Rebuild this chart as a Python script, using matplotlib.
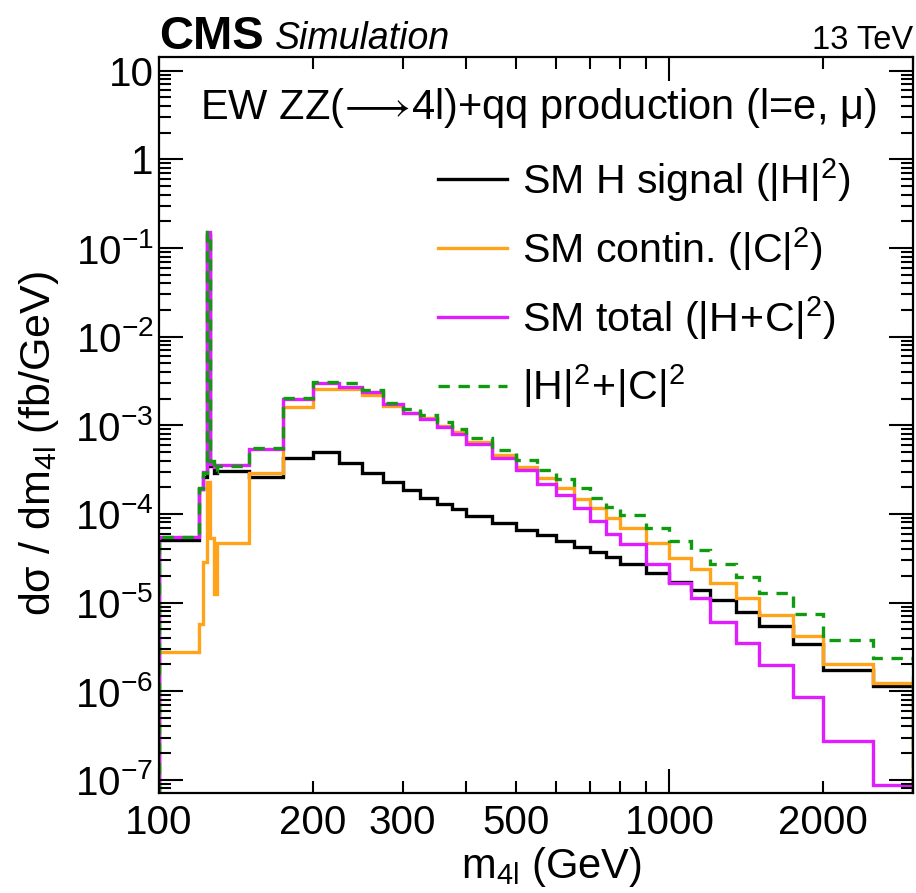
import numpy as np
import matplotlib
matplotlib.use("Agg")
import matplotlib.pyplot as plt
from matplotlib.ticker import FixedLocator, FuncFormatter, NullFormatter

plt.rcParams['font.family'] = ['Liberation Sans', 'DejaVu Sans']
plt.rcParams['mathtext.fontset'] = 'custom'
plt.rcParams['mathtext.rm'] = 'Liberation Sans'
plt.rcParams['mathtext.it'] = 'Liberation Sans:italic'
plt.rcParams['mathtext.bf'] = 'Liberation Sans:bold'

# bin edges in m4l (GeV)
edges = [100, 120, 122, 124, 126, 128, 130, 150, 175, 200, 225, 250, 275, 300,
         325, 350, 375, 400, 450, 500, 550, 600, 650, 700, 750, 800, 900, 1000,
         1100, 1200, 1350, 1500, 1750, 2000, 2500, 3000]

# dsigma/dm4l (fb/GeV)
sm_signal = [5.1e-5, 1.9e-4, 2.6e-4, 0.14, 3.5e-4, 2.9e-4, 3.05e-4, 2.63e-4,
             4.3e-4, 5.0e-4, 3.8e-4, 2.93e-4, 2.3e-4, 1.88e-4, 1.53e-4, 1.28e-4,
             1.15e-4, 9.5e-5, 7.9e-5, 6.5e-5, 5.75e-5, 4.9e-5, 4.25e-5, 3.7e-5,
             3.27e-5, 2.75e-5, 2.16e-5, 1.71e-5, 1.4e-5, 1.06e-5, 7.8e-6,
             5.45e-6, 3.38e-6, 1.75e-6, 1.15e-6]
sm_contin = [2.75e-6, 5.8e-6, 2.9e-5, 2.3e-4, 5.3e-5, 1.26e-5, 4.7e-5, 2.86e-4,
             1.61e-3, 2.55e-3, 2.54e-3, 2.19e-3, 1.64e-3, 1.39e-3, 1.21e-3,
             9.85e-4, 8.3e-4, 6.4e-4, 4.6e-4, 3.39e-4, 2.55e-4, 1.97e-4,
             1.49e-4, 1.17e-4, 8.9e-5, 6.95e-5, 4.75e-5, 3.22e-5, 2.42e-5,
             1.64e-5, 1.13e-5, 7.3e-6, 4.16e-6, 2.0e-6, 1.24e-6]
sm_total = [5.5e-5, 1.9e-4, 2.98e-4, 0.15, 3.7e-4, 3.4e-4, 3.55e-4, 5.37e-4,
            1.97e-3, 2.96e-3, 2.71e-3, 2.38e-3, 1.73e-3, 1.36e-3, 1.17e-3,
            9.6e-4, 7.9e-4, 6.1e-4, 4.3e-4, 3.1e-4, 2.2e-4, 1.63e-4, 1.17e-4,
            8.3e-5, 6.0e-5, 4.6e-5, 2.75e-5, 1.64e-5, 1.13e-5, 6.0e-6, 3.5e-6,
            1.96e-6, 8.6e-7, 2.74e-7, 8.8e-8]
sum_sq = [5.5e-5, 1.95e-4, 2.9e-4, 0.15, 4.0e-4, 3.0e-4, 3.5e-4, 5.5e-4,
          2.04e-3, 3.1e-3, 3.0e-3, 2.5e-3, 1.8e-3, 1.51e-3, 1.31e-3, 1.08e-3,
          9.1e-4, 7.2e-4, 5.3e-4, 4.03e-4, 3.1e-4, 2.47e-4, 1.94e-4, 1.53e-4,
          1.2e-4, 9.7e-5, 7.0e-5, 4.95e-5, 3.9e-5, 2.75e-5, 1.95e-5, 1.28e-5,
          7.5e-6, 3.75e-6, 2.39e-6]

labels = [r'SM H signal ($|\mathrm{H}|^{2}$)',
          r'SM contin. ($|\mathrm{C}|^{2}$)',
          r'SM total ($|\mathrm{H\!+\!C}|^{2}$)',
          r'$|\mathrm{H}|^{2}\!+\!|\mathrm{C}|^{2}$']

x_major = [100, 1000]
x_minor = [200, 300, 400, 500, 600, 700, 800, 900, 2000, 3000]
x_minor_labels = ['200', '300', '', '500', '', '', '', '', '2000', '']

fig = plt.figure(figsize=(9.16, 8.93), dpi=100)
ax = fig.add_axes([0.1736, 0.112, 0.8231, 0.8245])

base = 1e-12
lw = 2.4
ax.stairs(sm_signal, edges, baseline=base, color='black', lw=lw, label=labels[0])
ax.stairs(sm_contin, edges, baseline=base, color='#ffa31a', lw=lw, label=labels[1])
ax.stairs(sm_total, edges, baseline=base, color='#e11cff', lw=lw, label=labels[2])
ax.stairs(sum_sq, edges, baseline=base, color='#0f9a0f', lw=lw, ls=(0, (3.4, 2.6)),
          label=labels[3])

ax.set_xscale('log')
ax.set_yscale('log')
ax.set_xlim(100, 3000)
ax.set_ylim(7.1e-8, 14.4)

ax.xaxis.set_major_locator(FixedLocator(x_major))
ax.xaxis.set_major_formatter(FuncFormatter(lambda v, p: '%d' % v))
ax.set_xticks(x_minor, x_minor_labels, minor=True)

def yfmt(v, p):
    e = int(round(np.log10(v)))
    if e == 1:
        return '10'
    if e == 0:
        return '1'
    return r'$10^{%d}$' % e

ax.yaxis.set_major_locator(FixedLocator([10.0 ** k for k in range(-8, 2)]))
ax.yaxis.set_major_formatter(FuncFormatter(yfmt))
ax.yaxis.set_minor_locator(FixedLocator([m * 10.0 ** k for k in range(-8, 2) for m in range(2, 10)]))
ax.yaxis.set_minor_formatter(NullFormatter())

ax.tick_params(which='both', direction='in', top=True, right=True, width=1.5,
               labelsize=29, color='black')
ax.tick_params(which='major', length=17)
ax.tick_params(which='minor', length=8.5)
ax.tick_params(axis='x', which='both', pad=8)
ax.tick_params(axis='y', which='both', pad=4)
for s in ax.spines.values():
    s.set_linewidth(1.6)

ax.set_xlabel(r'm$_{\mathrm{4l}}$ (GeV)', fontsize=30, labelpad=0)
ax.xaxis.set_label_coords(0.52, -0.07)
ax.set_ylabel(r'dσ / dm$_{\mathrm{4l}}$ (fb/GeV)', fontsize=31)
ax.yaxis.set_label_coords(-0.13, 0.475)

ax.text(0.054, 0.930, r'EW ZZ($\!\longrightarrow\!$4l)+qq production (l=e, μ)',
        transform=ax.transAxes, fontsize=30, va='center', ha='left')

fig.text(0.1736, 0.945, 'CMS', fontsize=34, fontweight='bold', va='baseline', ha='left')
fig.text(0.300, 0.945, 'Simulation', fontsize=27, style='italic', va='baseline', ha='left')
fig.text(0.9967, 0.945, '13 TeV', fontsize=23.5, va='baseline', ha='right')

ax.legend(loc='upper left', bbox_to_anchor=(0.370, 0.8647), frameon=False,
          fontsize=29.6, handlelength=1.68, handletextpad=0.36, labelspacing=0.51,
          borderpad=0, borderaxespad=0)

fig.savefig('out.png', dpi=100)
